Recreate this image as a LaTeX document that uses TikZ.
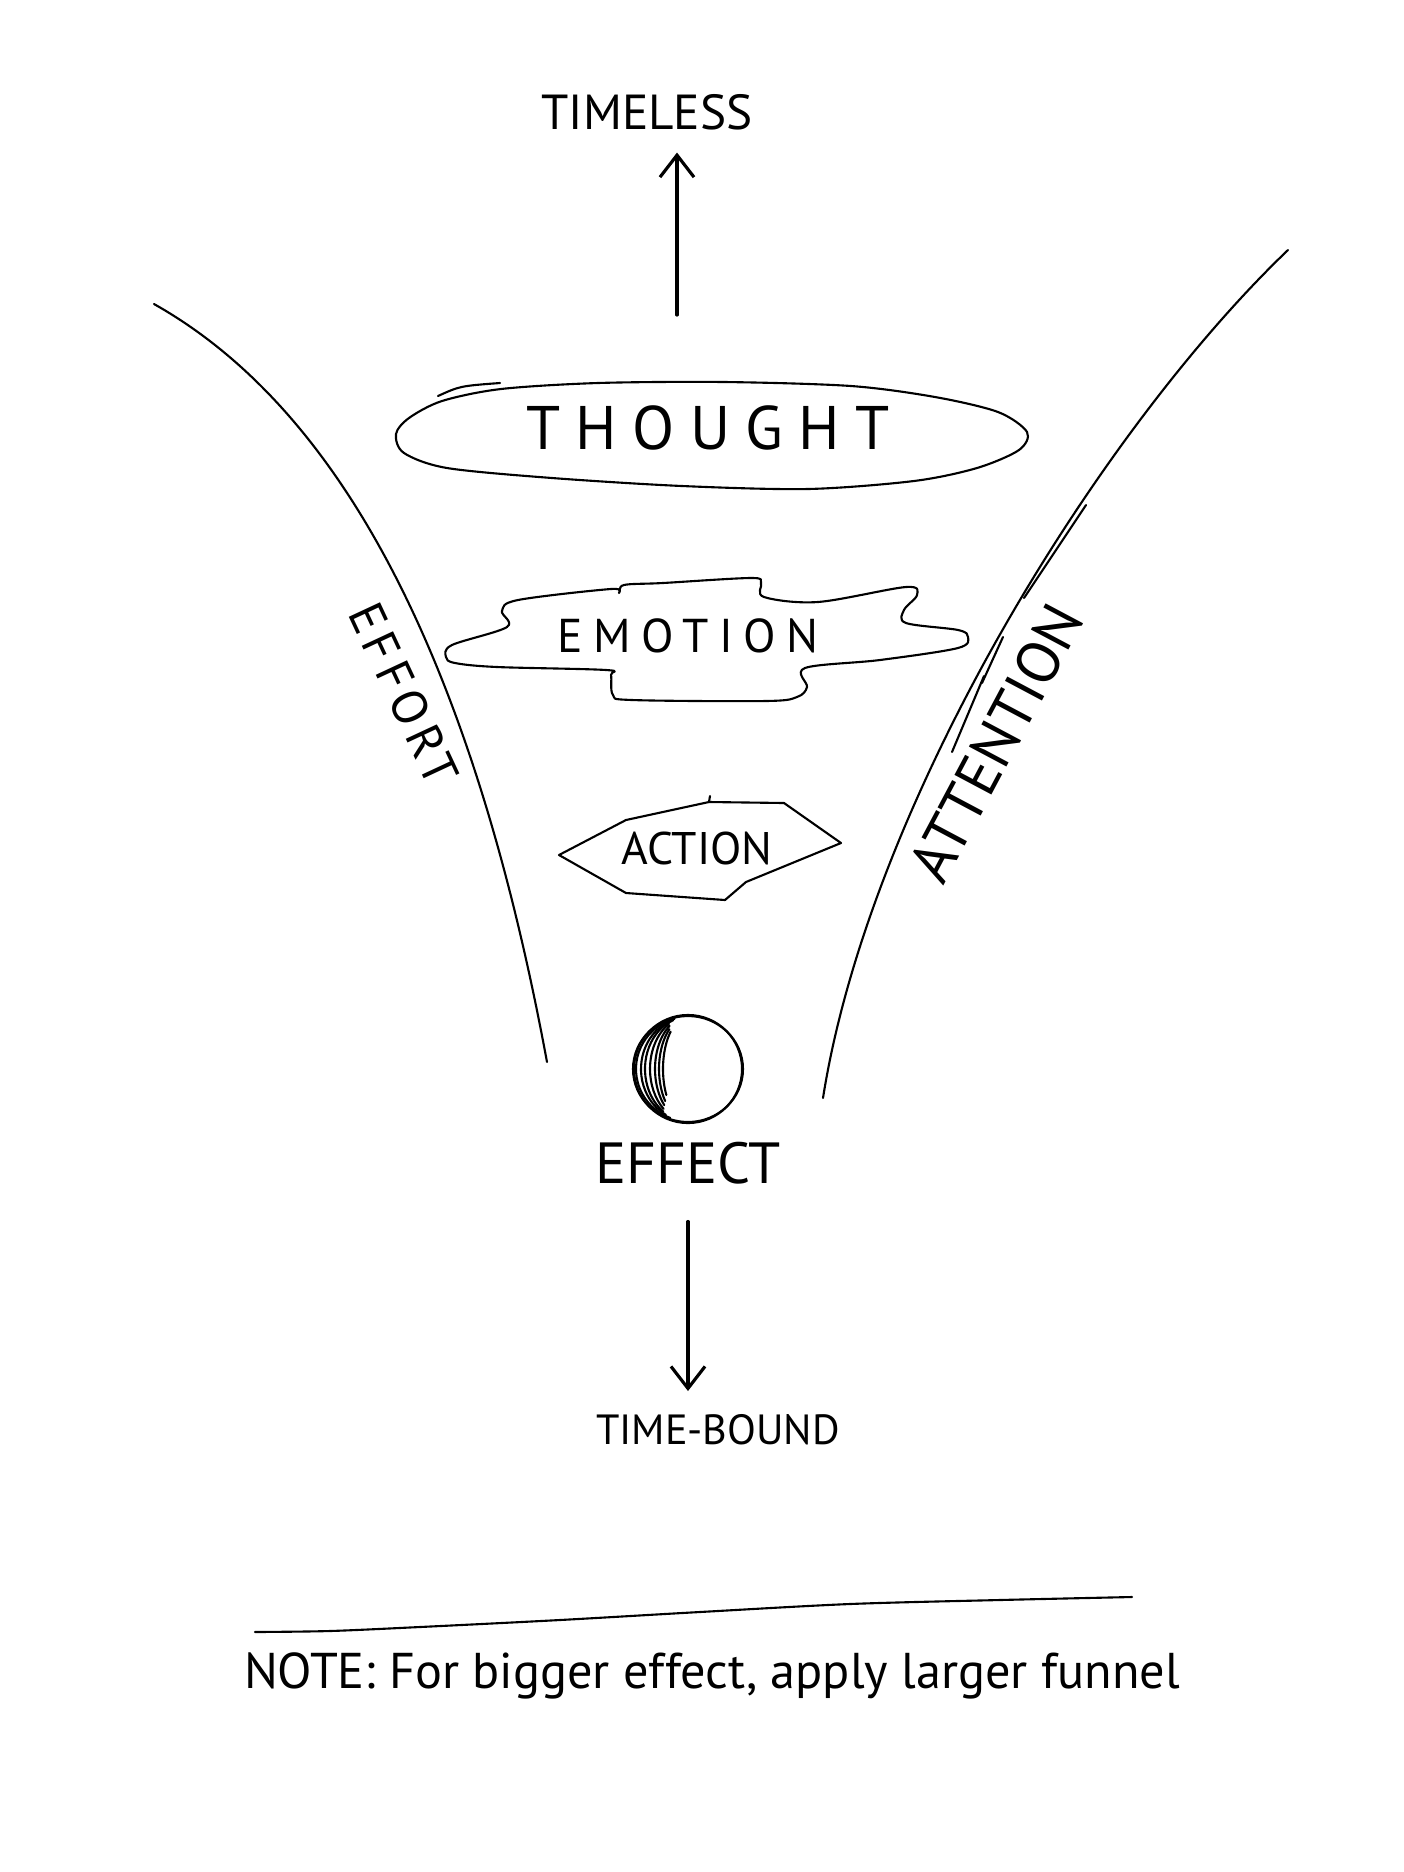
\documentclass[tikz,border=0pt]{standalone}
\usepackage{fontspec}
\setmainfont{PT Sans}
\usetikzlibrary{shapes, arrows.meta, positioning}
\tikzstyle{stroke} = [line width=0.6pt, line cap=round, line join=round]
\tikzstyle{word} = [inner sep=0, font=\fontsize{13}{15}\selectfont]
\tikzstyle{pointer} = [line width=0.9pt, line cap=round, -{Straight Barb[length=2.2mm,width=3.4mm]}]
\def \ry {52}

\begin{document}
\begin{tikzpicture}[x=0.01cm, y=-0.01cm]
      \useasboundingbox (0,0) rectangle (1404,1872);
      % funnel walls
      \draw[stroke] (154,304) .. controls (360,420) and (480,700) .. (547,1062);
      \draw[stroke] (1288,250) .. controls (1100,430) and (870,800) .. (823,1098);
      \draw[stroke] (1086,505) -- (1024,598);
      \draw[stroke] (1003,637) -- (982,683);
      \draw[stroke] (984,676) -- (952,752);
      \node[word, rotate=-65, font=\fontsize{14}{16}\selectfont\addfontfeature{LetterSpace=12}] (effort) at (404,694) {EFFORT};
      \node[word, rotate=62, font=\fontsize{17}{19}\selectfont] (attention) at (996,743) {ATTENTION};
      % thought
      \draw[stroke] plot[smooth cycle] coordinates {(396,434) (409,418) (442,401) (501,389) (598,383) (724,382) (851,386) (935,397) (998,412) (1027,432) (1019,450) (977,468) (914,481) (808,489) (682,486) (552,478) (447,468) (404,453)};
      \draw[stroke] (438,396) .. controls (460,386) .. (500,383);
      \node[word, font=\fontsize{17.5}{20}\selectfont\addfontfeature{LetterSpace=25}] (thought) at (708,428) {THOUGHT};
      \node[word, font=\fontsize{14}{16}\selectfont] (timeless) at (647,112) {TIMELESS};
      \coordinate (rise) at (677,315);
      \draw[pointer, shorten >=0.22cm] (rise) -- (rise |- timeless.south);
      % emotion
      \draw[stroke] plot[smooth cycle, tension=0.55] coordinates {(446,657) (452,645) (507,627) (502,611) (518,600) (611,589) (619,593) (624,585) (663,583) (751,578) (761,583) (764,597) (818,602) (906,587) (917,595) (904,610) (906,623) (958,630) (968,637) (958,648) (880,660) (805,668) (807,687) (797,697) (766,701) (632,700) (613,695) (611,675) (606,670) (497,667) (455,663)};
      \node[word, font=\fontsize{13.5}{16}\selectfont\addfontfeature{LetterSpace=22}] (emotion) at (688,636) {EMOTION};
      % action
      \draw[stroke] (559,855) -- (626,820) -- (709,802) -- (784,803) -- (841,843) -- (746,882) -- (725,900) -- (626,893) -- cycle;
      \draw[stroke] (709,802) -- (710,796);
      \node[word, font=\fontsize{13}{15}\selectfont] (action) at (697,848) {ACTION};
      % effect
      \node[circle, draw, stroke, minimum size=1.08cm, inner sep=0] (ball) at (688,1069) {};
      \draw[stroke] (ball.center) ellipse [x radius=55, y radius=53];
      \foreach \rx/\a/\b in {52/255/110, 47/245/118, 43/250/125, 38/240/130, 33/236/136, 29/230/142, 25/226/150}
        \draw[stroke] (ball.center) ++(\a:{\rx} and {\ry}) arc[start angle=\a, end angle=\b, x radius=\rx, y radius=\ry];
      \node[word, font=\fontsize{16.5}{19}\selectfont] (effect) [below=0.17cm of ball] {EFFECT};
      \node[word, font=\fontsize{12}{14}\selectfont] (timebound) at (718,1430) {TIME-BOUND};
      \draw[pointer, shorten <=0.37cm, shorten >=0.23cm] (effect.south) -- (effect.south |- timebound.north);
      % note
      \draw[stroke] plot[smooth] coordinates {(255,1632) (330,1631) (420,1627) (560,1620) (700,1612) (850,1604) (1000,1600) (1132,1597)};
      \node[word, font=\fontsize{14.3}{17}\selectfont] (note) at (712,1676) {NOTE: For bigger effect, apply larger funnel};
\end{tikzpicture}
\end{document}
